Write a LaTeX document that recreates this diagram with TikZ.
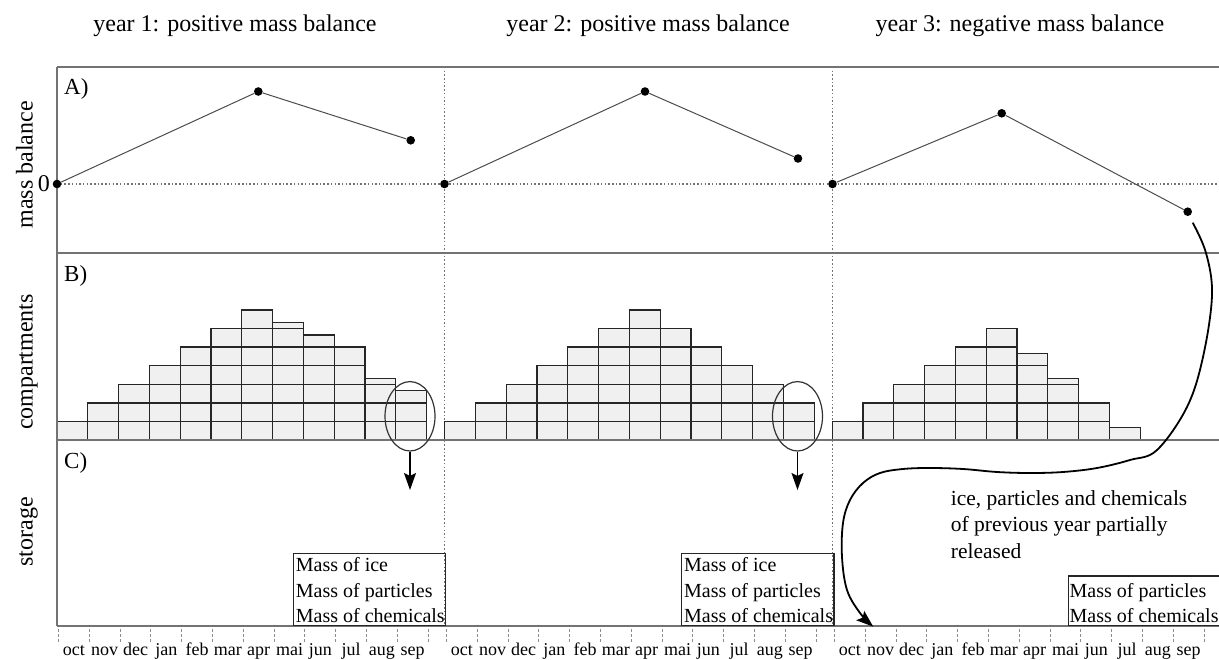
\documentclass[tikz,border=0pt]{standalone}
\usepackage{fontspec}
\setmainfont{Liberation Serif}
\usetikzlibrary{shapes.geometric,arrows.meta}
\tikzset{
  frame/.style={draw=black!55, line width=1.3pt},
  dotline/.style={draw=black!55, line width=1.3pt, dash pattern=on 1.5pt off 2.2pt},
  cell/.style={draw=black!85, fill=black!6, line width=1.3pt},
  dot/.style={circle, fill=black, minimum size=8.6pt, inner sep=0pt},
  mbline/.style={draw=black!70, line width=1pt},
  tickmark/.style={draw=black!45, line width=0.9pt, dash pattern=on 3pt off 2pt},
  title/.style={font=\fontsize{24}{28}\selectfont, anchor=base, inner sep=0pt},
  axlab/.style={font=\fontsize{24}{28}\selectfont, rotate=90, anchor=base, inner sep=0pt},
  panlab/.style={font=\fontsize{23}{27}\selectfont, anchor=base west, inner sep=0pt},
  month/.style={font=\fontsize{18}{22}\selectfont, anchor=base, inner sep=0pt},
  boxtext/.style={font=\fontsize{20}{24}\selectfont, anchor=base west, inner sep=0pt},
  note/.style={font=\fontsize{21.5}{26}\selectfont, anchor=base west, inner sep=0pt},
  massbox/.style={draw=black!85, line width=1.4pt, inner sep=0pt},
  ell/.style={draw=black!80, ellipse, line width=1.2pt, inner sep=0pt, minimum width=50pt, minimum height=69.4pt},
  arr/.style={draw=black, line width=1.4pt, -{Stealth[length=17pt,width=12pt,inset=3pt]}},
}
\newcommand\drawcols[2]{%
  \foreach \h [count=\i from 0] in {#2} {
    \pgfmathsetmacro\xa{#1+30.8*\i}
    \pgfmathsetmacro\xb{\xa+30.8}
    \pgfmathtruncatemacro\n{floor(\h)}
    \pgfmathtruncatemacro\hasfr{(\h-\n)*100}
    \ifnum\n>0
      \foreach \r in {1,...,\n} {
        \draw[cell] (\xa,{440-18.57*(\r-1)}) rectangle (\xb,{440-18.57*\r});
      }
    \fi
    \ifnum\hasfr>1
      \draw[cell] (\xa,{440-18.57*\n}) rectangle (\xb,{440-18.57*\h});
    \fi
  }%
}
\begin{document}
\begin{tikzpicture}[x=1pt,y=-1pt]
\useasboundingbox (0,0) rectangle (1219,660);

% titles
\node[title] (t1) at (235,32) {year 1: positive mass balance};
\node[title] (t2) at (648,32) {year 2: positive mass balance};
\node[title] (t3) at (1020,32) {year 3: negative mass balance};

% axis labels
\node[axlab] (l1) at (32.5,165) {mass balance};
\node[axlab] (l2) at (32.5,362) {compartments};
\node[axlab] (l3) at (32.5,532) {storage};
\node[font=\fontsize{24}{28}\selectfont, anchor=base east, inner sep=0pt] (zero) at (50,192) {0};

% dotted guide lines
\draw[dotline] (57,184) -- (1219,184);
\draw[dotline] (444.5,67) -- (444.5,626);
\draw[dotline] (832.5,67) -- (832.5,626);

% compartments
\drawcols{57}{1,2,3,4,5,6,7,6.33,5.66,5,3.33,2.68}
\drawcols{444.6}{1,2,3,4,5,6,7,6,5,4,3,2}
\drawcols{832.2}{1,2,3,4,5,6,4.66,3.3,2,0.68}

% frame
\draw[frame] (57,67) -- (1219,67);
\draw[frame] (57,253) -- (1219,253);
\draw[frame] (57,440) -- (1219,440);
\draw[frame] (57,626) -- (1219,626);
\draw[frame] (57,67) -- (57,626);

% panel labels
\node[panlab] (pa) at (64,95) {A)};
\node[panlab] (pb) at (64,281.7) {B)};
\node[panlab] (pc) at (64,468) {C)};

% mass balance
\node[dot] (p1) at (57,184) {};
\node[dot] (p2) at (258.3,91.5) {};
\node[dot] (p3) at (410.7,140.3) {};
\node[dot] (p4) at (444.5,184) {};
\node[dot] (p5) at (645,91.5) {};
\node[dot] (p6) at (798,158.5) {};
\node[dot] (p7) at (832.5,184) {};
\node[dot] (p8) at (1001.7,113.3) {};
\node[dot] (p9) at (1187.7,211.7) {};
\draw[mbline] (p1) -- (p2) -- (p3);
\draw[mbline] (p4) -- (p5) -- (p6);
\draw[mbline] (p7) -- (p8) -- (p9);

% ellipses and arrows
\node[ell] (e1) at (410,416.3) {};
\node[ell] (e2) at (797.5,416.3) {};
\coordinate (d1) at (410,490);
\coordinate (d2) at (797.5,490);
\draw[arr] (e1.south) -- (d1);
\draw[arr] (e2.south) -- (d2);

% storage boxes
\node[massbox, minimum width=152.3pt, minimum height=71.7pt, anchor=south west] (box1) at (292.7,626) {};
\node[boxtext] (b1a) at (295.7,571.7) {Mass of ice};
\node[boxtext] (b1b) at (295.7,597.2) {Mass of particles};
\node[boxtext] (b1c) at (295.7,622.7) {Mass of chemicals};
\node[massbox, minimum width=152.3pt, minimum height=71.7pt, anchor=south west] (box2) at (681,626) {};
\node[boxtext] (b2a) at (684,571.7) {Mass of ice};
\node[boxtext] (b2b) at (684,597.2) {Mass of particles};
\node[boxtext] (b2c) at (684,622.7) {Mass of chemicals};
\node[massbox, minimum width=160pt, minimum height=49.3pt, anchor=south west] (box3) at (1067.5,626) {};
\node[boxtext] (b3b) at (1069.5,597.2) {Mass of particles};
\node[boxtext] (b3c) at (1069.5,622.7) {Mass of chemicals};

% release note
\node[note] (n1) at (950.7,505) {ice, particles and chemicals};
\node[note] (n2) at (950.7,531.7) {of previous year partially};
\node[note] (n3) at (950.7,558.3) {released};

% curved release arrow
\coordinate (cs) at (1192.7,222.7);
\coordinate (ce) at (873.3,626.7);
\draw[draw=black, line width=1.8pt, -{Stealth[length=17pt,width=12pt,inset=3pt]}]
  plot[smooth, tension=0.6] coordinates {(cs) (1206,253) (1212,295) (1203,357) (1187,407) (1157,450)
   (1130,460) (1097,468) (1063,472) (1030,473) (997,472) (963,469) (930,468) (903,469)
   (880,473) (863,483) (850,500) (843,523) (842,557) (847,590) (860,613) (ce)};

% month ticks and labels
\foreach \k in {0,1,2} {
  \foreach \i in {0,...,12} {
    \draw[tickmark] ({58.5+388*\k+30.8*\i},629) -- ++(0,13);
  }
  \foreach \m [count=\i from 0] in {oct,nov,dec,jan,feb,mar,apr,mai,jun,jul,aug,sep} {
    \node[month] (m\k-\i) at ({58.5+388*\k+30.8*(\i+0.5)},655) {\m};
  }
}
\end{tikzpicture}
\end{document}
